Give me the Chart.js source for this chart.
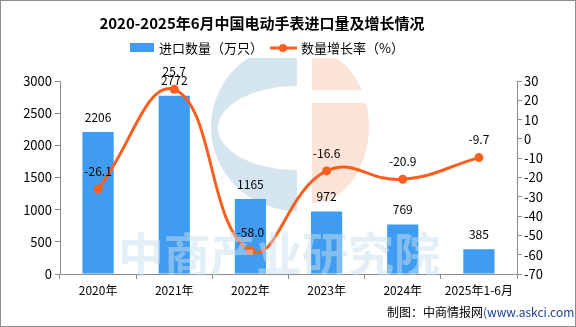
<!DOCTYPE html>
<html>
<head>
<meta charset="utf-8">
<script src="https://cdn.jsdelivr.net/npm/chart.js@4"></script>
<style>
  html, body { margin: 0; padding: 0; background: #fff; }
  #wrap { position: relative; width: 576px; height: 327px; box-sizing: border-box; border: 1px solid #8c8c8c; }
  canvas { display: block; }
</style>
</head>
<body>
<div id="wrap"><canvas id="importChart" width="574" height="325"></canvas></div>
<script>
// 年份与数据
const categories = ['2020年', '2021年', '2022年', '2023年', '2024年', '2025年1-6月'];
const importVolume = [2206, 2772, 1165, 972, 769, 385];   // 进口数量（万只）
const growthRate = [-26.1, 25.7, -58.0, -16.6, -20.9, -9.7]; // 数量增长率（%）

const BAR_COLOR = '#3f9cf0';
const LINE_COLOR = '#fa5f1e';
const AXIS_COLOR = '#8c8c8c';
const FONT = '"Noto Sans CJK SC", "DejaVu Sans", sans-serif';

// 标题、图例、水印与来源
const decorPlugin = {
    id: 'decor',
    beforeDatasetsDraw(chart) {
        const ctx = chart.ctx;
        ctx.save();
        ctx.beginPath();
        ctx.rect(0, 57, 574, 200);
        ctx.clip();
        // 水印 logo：左侧蓝色 C
        ctx.fillStyle = '#d5e5ef';
        ctx.beginPath();
        ctx.ellipse(296, 126, 86, 84, 0, Math.PI * 0.5, Math.PI * 1.5);
        ctx.closePath();
        ctx.fill();
        ctx.fillStyle = '#fff';
        ctx.beginPath();
        ctx.ellipse(296, 127, 79, 42, 0, Math.PI * 0.5, Math.PI * 1.5);
        ctx.closePath();
        ctx.fill();
        // 右侧橙色半圆
        ctx.fillStyle = '#fbe3d8';
        ctx.beginPath();
        ctx.ellipse(311, 126, 57, 76, 0, -Math.PI * 0.5, Math.PI * 0.5);
        ctx.closePath();
        ctx.fill();
        ctx.fillStyle = '#fff';
        ctx.fillRect(311, 89, 60, 13);
        ctx.restore();
    },
    afterDatasetsDraw(chart) {
        const ctx = chart.ctx;
        ctx.save();
        // 水印文字
        ctx.fillStyle = 'rgba(200, 224, 238, 0.5)';
        ctx.font = 'bold 46px ' + FONT;
        ctx.textAlign = 'center';
        ctx.textBaseline = 'middle';
        ctx.fillText('中商产业研究院', 278, 253);
        ctx.restore();
    },
    afterDraw(chart) {
        const ctx = chart.ctx;
        ctx.save();
        ctx.textBaseline = 'middle';
        // 标题
        ctx.fillStyle = '#000';
        ctx.font = 'bold 15px ' + FONT;
        ctx.textAlign = 'center';
        ctx.fillText('2020-2025年6月中国电动手表进口量及增长情况', 261, 22);
        // 图例
        ctx.font = '13px ' + FONT;
        ctx.textAlign = 'left';
        ctx.fillStyle = BAR_COLOR;
        ctx.fillRect(129, 42, 24, 9);
        ctx.fillStyle = '#000';
        ctx.fillText('进口数量（万只）', 158, 47);
        ctx.strokeStyle = LINE_COLOR;
        ctx.lineWidth = 3;
        ctx.beginPath();
        ctx.moveTo(269, 47);
        ctx.lineTo(296, 47);
        ctx.stroke();
        ctx.fillStyle = LINE_COLOR;
        ctx.beginPath();
        ctx.arc(282, 47, 4, 0, Math.PI * 2);
        ctx.fill();
        ctx.fillStyle = '#000';
        ctx.fillText('数量增长率（%）', 300, 47);
        // 来源
        ctx.font = '12px ' + FONT;
        const src1 = '制图：中商情报网';
        ctx.fillText(src1, 386, 311);
        const w = ctx.measureText(src1).width;
        ctx.fillStyle = '#1f3f8f';
        ctx.fillText('(www.askci.com)', 386 + w, 311);
        ctx.restore();
    }
};

// 数据标签
const labelPlugin = {
    id: 'valueLabels',
    afterDatasetsDraw(chart) {
        const ctx = chart.ctx;
        ctx.save();
        ctx.fillStyle = '#000';
        ctx.font = '12px ' + FONT;
        ctx.textAlign = 'center';
        ctx.textBaseline = 'middle';
        chart.getDatasetMeta(1).data.forEach((bar, i) => {
            ctx.fillText(String(importVolume[i]), bar.x, bar.y - 15);
        });
        chart.getDatasetMeta(0).data.forEach((pt, i) => {
            ctx.fillText(growthRate[i].toFixed(1), pt.x, pt.y - 18);
        });
        ctx.restore();
    }
};

new Chart(document.getElementById('importChart'), {
    data: {
        labels: categories,
        datasets: [{
            type: 'line',
            label: '数量增长率（%）',
            data: growthRate,
            yAxisID: 'yRate',
            borderColor: LINE_COLOR,
            backgroundColor: LINE_COLOR,
            borderWidth: 3,
            pointRadius: 4.5,
            pointBackgroundColor: LINE_COLOR,
            pointBorderWidth: 0,
            tension: 0.45,
            order: 0
        }, {
            type: 'bar',
            label: '进口数量（万只）',
            data: importVolume,
            yAxisID: 'yVol',
            backgroundColor: BAR_COLOR,
            categoryPercentage: 1,
            barPercentage: 0.41,
            order: 1
        }]
    },
    options: {
        responsive: false,
        animation: false,
        layout: { padding: { top: 80, left: 0, right: 0, bottom: 0 } },
        plugins: {
            legend: { display: false },
            title: { display: false },
            tooltip: { enabled: false }
        },
        scales: {
            x: {
                offset: true,
                grid: { display: true, drawOnChartArea: false, offset: true, color: AXIS_COLOR, tickLength: 5 },
                border: { color: AXIS_COLOR },
                ticks: { color: '#000', font: { size: 12, family: FONT }, padding: 4 },
                afterFit(scale) { scale.height = 52; }
            },
            yVol: {
                position: 'left',
                min: 0, max: 3000,
                ticks: {
                    stepSize: 500, color: '#000', font: { size: 13, family: FONT }, padding: 3,
                    callback: v => String(v)
                },
                grid: { drawOnChartArea: false, color: AXIS_COLOR, tickLength: 5 },
                border: { color: AXIS_COLOR },
                afterFit(scale) { scale.width = 59; }
            },
            yRate: {
                position: 'right',
                min: -70, max: 30,
                ticks: {
                    stepSize: 10, color: '#000', font: { size: 13, family: FONT }, padding: 2,
                    callback: v => String(v)
                },
                grid: { drawOnChartArea: false, color: AXIS_COLOR, tickLength: 5 },
                border: { color: AXIS_COLOR },
                afterFit(scale) { scale.width = 58; }
            }
        }
    },
    plugins: [decorPlugin, labelPlugin]
});
</script>
</body>
</html>
